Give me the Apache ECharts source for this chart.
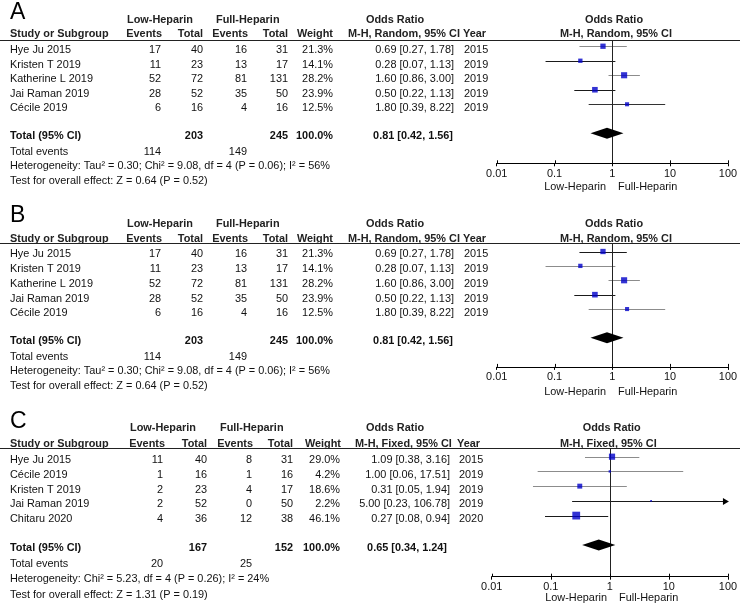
<!DOCTYPE html>
<html><head><meta charset="utf-8">
<script src="https://cdn.jsdelivr.net/npm/echarts@6/dist/echarts.min.js"></script>
<style>html,body{margin:0;padding:0;background:#fff}#c{width:740px;height:606px}</style>
</head><body><div id="c"></div>
<script>
// ---------- DATA ----------
const tickLabels = ["0.01", "0.1", "1", "10", "100"];

// Panels A and B (same data)
const studiesAB   = ["Hye Ju 2015", "Kristen T 2019", "Katherine L 2019", "Jai Raman 2019", "Cécile 2019"];
const lowEventsAB = [17, 11, 52, 28, 6];
const lowTotalAB  = [40, 23, 72, 52, 16];
const fullEventsAB= [16, 13, 81, 35, 4];
const fullTotalAB = [31, 17, 131, 50, 16];
const weightAB    = [21.3, 14.1, 28.2, 23.9, 12.5];
const orAB        = [0.69, 0.28, 1.60, 0.50, 1.80];
const loAB        = [0.27, 0.07, 0.86, 0.22, 0.39];
const hiAB        = [1.78, 1.13, 3.00, 1.13, 8.22];
const yearAB      = [2015, 2019, 2019, 2019, 2019];
const totalAB     = { lowTotal: 203, fullTotal: 245, weight: 100.0, or: 0.81, lo: 0.42, hi: 1.56, lowEvents: 114, fullEvents: 149 };
const hetAB  = "Heterogeneity: Tau² = 0.30; Chi² = 9.08, df = 4 (P = 0.06); I² = 56%";
const testAB = "Test for overall effect: Z = 0.64 (P = 0.52)";

// Panel C
const studiesC    = ["Hye Ju 2015", "Cécile 2019", "Kristen T 2019", "Jai Raman 2019", "Chitaru 2020"];
const lowEventsC  = [11, 1, 2, 2, 4];
const lowTotalC   = [40, 16, 23, 52, 36];
const fullEventsC = [8, 1, 4, 0, 12];
const fullTotalC  = [31, 16, 17, 50, 38];
const weightC     = [29.0, 4.2, 18.6, 2.2, 46.1];
const orC         = [1.09, 1.00, 0.31, 5.00, 0.27];
const loC         = [0.38, 0.06, 0.05, 0.23, 0.08];
const hiC         = [3.16, 17.51, 1.94, 106.78, 0.94];
const yearC       = [2015, 2019, 2019, 2019, 2020];
const totalC      = { lowTotal: 167, fullTotal: 152, weight: 100.0, or: 0.65, lo: 0.34, hi: 1.24, lowEvents: 20, fullEvents: 25 };
const hetC  = "Heterogeneity: Chi² = 5.23, df = 4 (P = 0.26); I² = 24%";
const testC = "Test for overall effect: Z = 1.31 (P = 0.19)";

// ---------- STYLE / LAYOUT ----------
const FONT = "'Liberation Sans', Arial, sans-serif";
const FS = 10.9;
const TXT = '#111';
const HDR = '#222';
const BLUE = '#0000c8';
const GREY = '#8c8c8c', BLK = '#1a1a1a';
const TOTAL_ROW = 6;
const tickValues = tickLabels.map(Number);

const dAB = { studies: studiesAB, lowEvents: lowEventsAB, lowTotal: lowTotalAB, fullEvents: fullEventsAB, fullTotal: fullTotalAB,
  weight: weightAB, or: orAB, lo: loAB, hi: hiAB, year: yearAB, total: totalAB, het: hetAB, test: testAB };
const dC = { studies: studiesC, lowEvents: lowEventsC, lowTotal: lowTotalC, fullEvents: fullEventsC, fullTotal: fullTotalC,
  weight: weightC, or: orC, lo: loC, hi: hiC, year: yearC, total: totalC, het: hetC, test: testC };

const colsAB = { study: 10, ev1: 161, tot1: 203, ev2: 247, tot2: 288, w: 333, or: 454, orTot: 453, year: 464,
  h1low: 127, h1full: 216, h1or: 366, hEv1: 162, hTot1: 203, hEv2: 248, hTot2: 288, hW: 333, hMethod: 348, hYear: 463,
  plotC1: 614, plotC2: 616, labLowR: 606, labFullL: 618 };
const colsC = { study: 10, ev1: 163, tot1: 207, ev2: 252, tot2: 293, w: 340, or: 450, orTot: 447, year: 459,
  h1low: 130, h1full: 220, h1or: 366, hEv1: 165, hTot1: 207, hEv2: 253, hTot2: 293, hW: 341, hMethod: 355, hYear: 457,
  plotC1: 611.7, plotC2: 608.3, labLowR: 607, labFullL: 619 };

const panels = [
  { letter: 'A', d: dAB, method: 'M-H, Random, 95% CI', cols: colsAB,
    y: { letter: 12.5, h1: 20, h2: 34.3, row0: 50, step: 14.55, total: 136, events: 151.7, het: 165.7, test: 181, lab: 186.7 },
    g: { top: 40, axis: 163.3, yMin: -0.43, yMax: 8.07, left: 496.7 },
    ci: [GREY, BLK, GREY, BLK, '#333'] },
  { letter: 'B', d: dAB, method: 'M-H, Random, 95% CI', cols: colsAB,
    y: { letter: 215.8, h1: 224.3, h2: 239, row0: 254.3, step: 14.75, total: 341, events: 356.7, het: 371, test: 386, lab: 391.5 },
    g: { top: 243.3, axis: 366.9, yMin: -0.57, yMax: 8.02, left: 496.7 },
    ci: [BLK, GREY, GREY, BLK, GREY] },
  { letter: 'C', d: dC, method: 'M-H, Fixed, 95% CI', cols: colsC,
    y: { letter: 421.3, h1: 428.3, h2: 444, row0: 460, step: 14.8, total: 548.3, events: 564.3, het: 579, test: 595, lab: 598.3 },
    g: { top: 448.3, axis: 576.7, yMin: -0.57, yMax: 8.15, left: 491.7 },
    ci: [GREY, GREY, GREY, BLK, BLK] }
];

function t(x, y, text, o) {
  o = o || {};
  return { type: 'text', x: x, y: y, silent: true, z: 10,
    style: { text: String(text), fill: o.fill || TXT, fontSize: o.size || FS, fontFamily: FONT,
      fontWeight: o.bold ? 'bold' : 'normal', align: o.align || 'left', verticalAlign: 'middle' } };
}
const f2 = v => v.toFixed(2);
const ciText = (o, l, h) => f2(o) + ' [' + f2(l) + ', ' + f2(h) + ']';

const graphics = [];
const grids = [], xAxes = [], yAxes = [], series = [];

panels.forEach((p, i) => {
  const c = p.cols, y = p.y, d = p.d;
  graphics.push(t(10, y.letter, p.letter, { size: 23, fill: '#000' }));
  graphics.push(t(c.h1low, y.h1, 'Low-Heparin', { bold: true, fill: HDR }));
  graphics.push(t(c.h1full, y.h1, 'Full-Heparin', { bold: true, fill: HDR }));
  graphics.push(t(c.h1or, y.h1, 'Odds Ratio', { bold: true, fill: HDR }));
  graphics.push(t(c.plotC1, y.h1, 'Odds Ratio', { bold: true, fill: HDR, align: 'center' }));
  graphics.push(t(c.study, y.h2, 'Study or Subgroup', { bold: true, fill: HDR }));
  graphics.push(t(c.hEv1, y.h2, 'Events', { bold: true, fill: HDR, align: 'right' }));
  graphics.push(t(c.hTot1, y.h2, 'Total', { bold: true, fill: HDR, align: 'right' }));
  graphics.push(t(c.hEv2, y.h2, 'Events', { bold: true, fill: HDR, align: 'right' }));
  graphics.push(t(c.hTot2, y.h2, 'Total', { bold: true, fill: HDR, align: 'right' }));
  graphics.push(t(c.hW, y.h2, 'Weight', { bold: true, fill: HDR, align: 'right' }));
  graphics.push(t(c.hMethod, y.h2, p.method, { bold: true, fill: HDR }));
  graphics.push(t(c.hYear, y.h2, 'Year', { bold: true, fill: HDR }));
  graphics.push(t(c.plotC2, y.h2, p.method, { bold: true, fill: HDR, align: 'center' }));
  graphics.push({ type: 'line', silent: true, z: 10, shape: { x1: 0, y1: Math.round(p.g.top) + 0.5, x2: 740, y2: Math.round(p.g.top) + 0.5 },
    style: { stroke: '#222', lineWidth: 1 } });
  d.studies.forEach((s, j) => {
    const yy = y.row0 + j * y.step;
    graphics.push(t(c.study, yy, s));
    graphics.push(t(c.ev1, yy, d.lowEvents[j], { align: 'right' }));
    graphics.push(t(c.tot1, yy, d.lowTotal[j], { align: 'right' }));
    graphics.push(t(c.ev2, yy, d.fullEvents[j], { align: 'right' }));
    graphics.push(t(c.tot2, yy, d.fullTotal[j], { align: 'right' }));
    graphics.push(t(c.w, yy, d.weight[j].toFixed(1) + '%', { align: 'right' }));
    graphics.push(t(c.or, yy, ciText(d.or[j], d.lo[j], d.hi[j]), { align: 'right' }));
    graphics.push(t(c.year, yy, d.year[j]));
  });
  const T = d.total;
  graphics.push(t(c.study, y.total, 'Total (95% CI)', { bold: true }));
  graphics.push(t(c.tot1, y.total, T.lowTotal, { bold: true, align: 'right' }));
  graphics.push(t(c.tot2, y.total, T.fullTotal, { bold: true, align: 'right' }));
  graphics.push(t(c.w, y.total, T.weight.toFixed(1) + '%', { bold: true, align: 'right' }));
  graphics.push(t(c.orTot, y.total, ciText(T.or, T.lo, T.hi), { bold: true, align: 'right' }));
  graphics.push(t(c.study, y.events, 'Total events'));
  graphics.push(t(c.ev1, y.events, T.lowEvents, { align: 'right' }));
  graphics.push(t(c.ev2, y.events, T.fullEvents, { align: 'right' }));
  graphics.push(t(c.study, y.het, d.het));
  graphics.push(t(c.study, y.test, d.test));
  graphics.push(t(c.labLowR, y.lab, 'Low-Heparin', { align: 'right' }));
  graphics.push(t(c.labFullL, y.lab, 'Full-Heparin'));

  // ---- chart ----
  grids.push({ left: p.g.left, right: 740 - 729.3, top: p.g.top, height: p.g.axis - p.g.top });
  xAxes.push({
    type: 'log', logBase: 10, gridIndex: i, min: 0.01, max: 100, position: 'bottom', splitLine: { show: false },
    axisLine: { show: true, onZero: false, lineStyle: { color: '#000', width: 1 } },
    axisTick: { show: true, length: 3, lineStyle: { color: '#000', width: 1 } },
    minorTick: { show: false },
    axisLabel: { show: true, margin: 5, color: TXT, fontSize: FS, fontFamily: FONT, showMinLabel: true, showMaxLabel: true,
      formatter: v => tickLabels[Math.round(Math.log10(v)) + 2] }
  });
  yAxes.push({ type: 'value', gridIndex: i, min: p.g.yMin, max: p.g.yMax, inverse: true, show: false });

  const ci = p.ci, yMax = p.g.yMax;
  // upper half of the crossing axis ticks
  series.push({
    type: 'custom', xAxisIndex: i, yAxisIndex: i, z: 6, silent: true,
    data: tickValues.map(v => [v]),
    renderItem: function (params, api) {
      const pt = api.coord([api.value(0), yMax]);
      const x = Math.round(pt[0]) + 0.5;
      return { type: 'line', shape: { x1: x, y1: pt[1] - 3, x2: x, y2: pt[1] }, style: { stroke: '#000', lineWidth: 1 } };
    }
  });
  // CI lines
  series.push({
    type: 'custom', xAxisIndex: i, yAxisIndex: i, z: 2, silent: true,
    data: d.or.map((o, j) => [d.lo[j], d.hi[j], j]),
    renderItem: function (params, api) {
      const lo = api.value(0), hi = api.value(1), r = api.value(2);
      const p1 = api.coord([Math.max(lo, 0.01), r]);
      const p2 = api.coord([Math.min(hi, 100), r]);
      const yy = Math.round(p1[1]) + 0.5;
      const kids = [{ type: 'line', shape: { x1: p1[0], y1: yy, x2: p2[0], y2: yy }, style: { stroke: ci[params.dataIndex], lineWidth: 1 } }];
      if (hi > 100) kids.push({ type: 'polygon', shape: { points: [[p2[0] + 1, yy], [p2[0] - 5, yy - 3.5], [p2[0] - 5, yy + 3.5]] }, style: { fill: '#000' } });
      return { type: 'group', children: kids };
    }
  });
  // point estimates + reference line at 1
  series.push({
    type: 'scatter', xAxisIndex: i, yAxisIndex: i, z: 4, silent: true, symbol: 'rect',
    data: d.or.map((o, j) => [o, j, d.weight[j]]),
    symbolSize: v => 1.15 * Math.sqrt(v[2]),
    itemStyle: { color: BLUE },
    markLine: { silent: true, symbol: 'none', z: 3, label: { show: false },
      lineStyle: { color: '#222', width: 1, type: 'solid' }, data: [{ xAxis: 1 }] }
  });
  // pooled diamond
  series.push({
    type: 'custom', xAxisIndex: i, yAxisIndex: i, z: 5, silent: true,
    data: [[T.or, T.lo, T.hi, TOTAL_ROW]],
    renderItem: function (params, api) {
      const r = api.value(3);
      const cc = api.coord([api.value(0), r]);
      const l = api.coord([api.value(1), r]);
      const h = api.coord([api.value(2), r]);
      return { type: 'polygon', shape: { points: [[l[0], cc[1]], [cc[0], cc[1] - 5.5], [h[0], cc[1]], [cc[0], cc[1] + 5.5]] }, style: { fill: '#000' } };
    }
  });
});

const chart = echarts.init(document.getElementById('c'), null, { renderer: 'canvas', width: 740, height: 606 });
chart.setOption({
  animation: false,
  backgroundColor: '#fff',
  grid: grids, xAxis: xAxes, yAxis: yAxes, series: series,
  graphic: { elements: graphics }
});
</script></body></html>
